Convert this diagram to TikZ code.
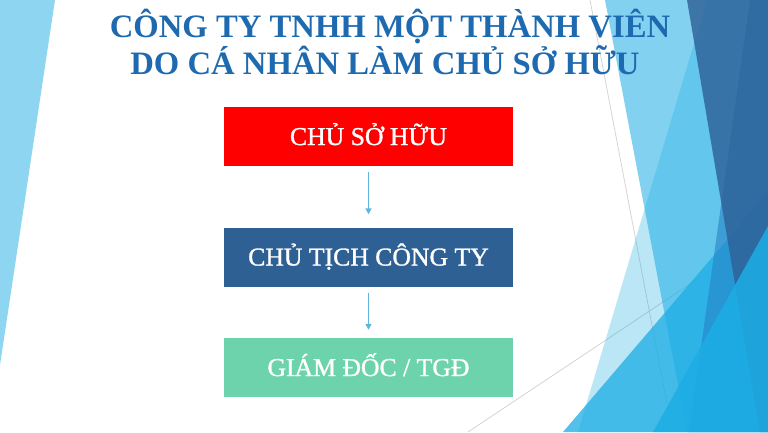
\documentclass[tikz,border=0pt]{standalone}
\usepackage{fontspec}
\setmainfont{Liberation Serif}
\newfontfamily\boxfont{Liberation Serif}[FakeBold=1.2]
\usetikzlibrary{arrows.meta}
\definecolor{facetblue}{HTML}{1CADE4}
\definecolor{facetmid}{HTML}{2683C6}
\definecolor{facetdark}{HTML}{2D5F95}
\definecolor{facetline}{HTML}{D3D3D3}
\definecolor{titleblue}{HTML}{1E6AB0}
\definecolor{ownerred}{HTML}{FF0000}
\definecolor{chairblue}{HTML}{2E6093}
\definecolor{directorgreen}{HTML}{6DD3AD}
\definecolor{arrowblue}{HTML}{5CB6DE}

\begin{document}
\begin{tikzpicture}[x=1pt,y=-1pt,
  box/.style={minimum width=289pt,minimum height=59pt,inner sep=0pt,
    text height=17pt,text depth=0pt,text=white,font=\boxfont\fontsize{25.7}{30}\selectfont},
  link/.style={arrowblue,line width=1.8pt,-{Triangle[width=6pt,length=6pt]}},
  heading/.style={titleblue,anchor=base,font=\bfseries\fontsize{32.7}{37}\selectfont}]
% Background
\fill[white] (0,0) rectangle (768,432);
\useasboundingbox (0,0) rectangle (768,432);

% Thin lines
\draw[facetline,line width=0.75pt] (590,0) -- (667,404);
\draw[facetline,line width=0.75pt] (468,432) -- (768,232);

% Left facet
\fill[facetblue,opacity=0.5] (0,0) -- (55,0) -- (0,365) -- cycle;

% Right facets
\fill[facetblue,opacity=0.3] (707,0) -- (768,0) -- (768,432) -- (578,432) -- cycle;
\fill[facetblue,opacity=0.55] (605,0) -- (768,0) -- (768,432) -- (687,432) -- cycle;
\fill[facetblue,opacity=0.75] (768,192) -- (768,432) -- (563,432) -- cycle;
\fill[facetmid,opacity=0.6] (750,0) -- (768,0) -- (768,432) -- (689,432) -- cycle;
\fill[facetdark,opacity=0.8] (687,0) -- (768,0) -- (768,432) -- (760,432) -- cycle;
\fill[facetblue,opacity=0.85] (768,226) -- (768,432) -- (653,432) -- cycle;

% Title
\node[heading] (title1) at (390,37.5) {CÔNG TY TNHH MỘT THÀNH VIÊN};
\node[heading] (title2) at (385,74.5) {DO CÁ NHÂN LÀM CHỦ SỞ HỮU};

% Boxes
\node[box,fill=ownerred] (owner) at (368.5,136.5) {CHỦ SỞ HỮU};
\node[box,fill=chairblue] (chair) at (368.5,257) {CHỦ TỊCH CÔNG TY};
\node[box,fill=directorgreen] (director) at (368.5,367.5) {GIÁM ĐỐC / TGĐ};

% Arrows
\draw[link,shorten <=6pt,shorten >=13pt] (owner) -- (chair);
\draw[link,shorten <=6pt,shorten >=8pt] (chair) -- (director);
\end{tikzpicture}
\end{document}
